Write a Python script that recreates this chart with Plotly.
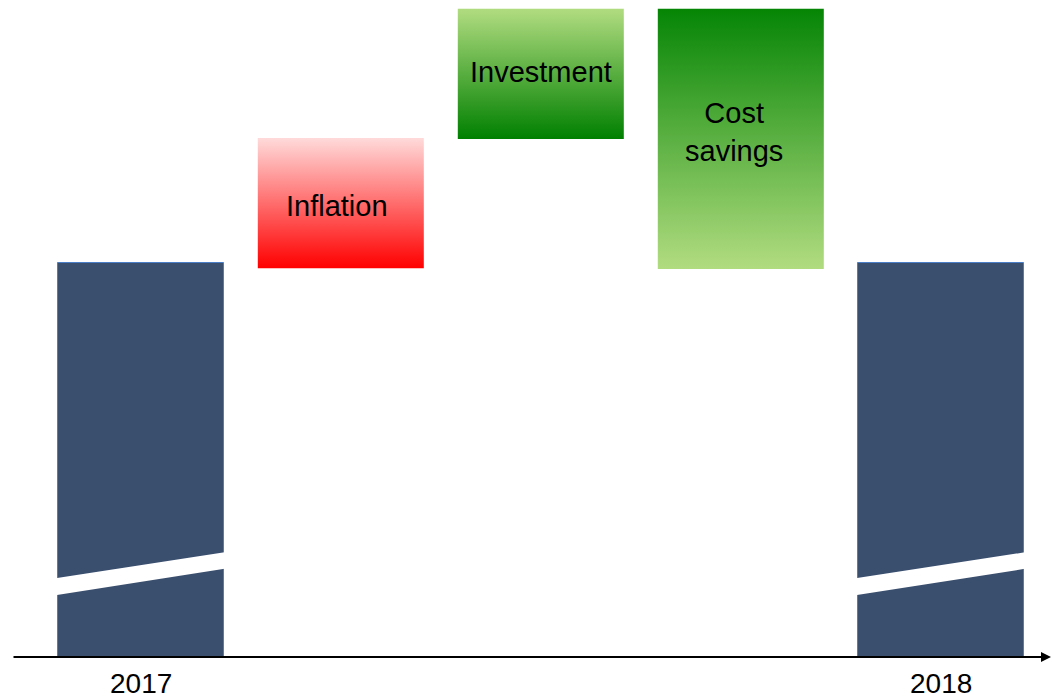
import plotly.graph_objects as go

# Bridge from 2017 to 2018 (indexed units)
categories = ["2017", "Inflation", "Investment", "Cost<br>savings", "2018"]
kinds = ["total", "delta", "delta", "delta", "total"]
axis_labels = ["2017", "", "", "", "2018"]

# totals (bars drawn from zero)
totals = {"2017": 100, "2018": 100}
# floating steps: level where each step starts and where it ends
step_start = {"Inflation": 98.7, "Investment": 131.5, "Cost<br>savings": 164.5}
step_end = {"Inflation": 131.7, "Investment": 164.5, "Cost<br>savings": 98.5}

NAVY = "#3A4F6E"
EDGE = "#4A7FC8"
BAR_W = 0.83
FONT = "Liberation Sans, Arial"

# gradient colour stops for each floating step (bottom colour, top colour)
gradients = {
    "Inflation": ("#FF0000", "#FFDADA"),
    "Investment": ("#008000", "#B1DC80"),
    "Cost<br>savings": ("#B1DC80", "#058505"),
}
# label nudges inside the step boxes (pixels)
label_shift = {
    "Inflation": (-4, -3),
    "Investment": (0, 2),
    "Cost<br>savings": (-7, 7),
}

fig = go.Figure()

xs = list(range(len(categories)))

# totals as bars
tot_x = [x for x, c in zip(xs, categories) if c in totals]
fig.add_trace(go.Bar(
    x=tot_x,
    y=[totals[categories[x]] for x in tot_x],
    width=BAR_W,
    marker=dict(color=NAVY, line=dict(color=EDGE, width=1)),
    hoverinfo="skip",
    showlegend=False,
))

# floating steps as gradient-filled rectangles
for x, cat, kind in zip(xs, categories, kinds):
    if kind != "delta":
        continue
    lo, hi = sorted((step_start[cat], step_end[cat]))
    c_lo, c_hi = gradients[cat]
    x0, x1 = x - BAR_W / 2, x + BAR_W / 2
    fig.add_trace(go.Scatter(
        x=[x0, x1, x1, x0, x0],
        y=[lo, lo, hi, hi, lo],
        mode="lines",
        line=dict(width=0),
        fill="toself",
        fillgradient=dict(type="vertical", colorscale=[[0, c_lo], [1, c_hi]]),
        hoverinfo="skip",
        showlegend=False,
    ))
    dx, dy = label_shift[cat]
    fig.add_annotation(
        x=x, y=(lo + hi) / 2, text=cat, showarrow=False,
        font=dict(family=FONT, size=29, color="#000000"),
        xshift=dx, yshift=dy,
    )

# axis-break stripes across the total bars
for x, kind in zip(xs, kinds):
    if kind != "total":
        continue
    x0, x1 = x - BAR_W / 2 - 0.02, x + BAR_W / 2 + 0.02
    fig.add_shape(
        type="path",
        path=f"M {x0},15.6 L {x1},22.5 L {x1},26.7 L {x0},19.9 Z",
        fillcolor="white", line=dict(width=0), layer="above",
    )

# year labels under the axis
for x, lab in zip(xs, axis_labels):
    if lab:
        fig.add_annotation(
            x=x, y=0, text=lab, showarrow=False, yanchor="top", yshift=-9,
            font=dict(family=FONT, size=28, color="#000000"),
        )

# horizontal axis with arrow
fig.add_annotation(
    xref="paper", yref="y", x=1051 / 1052, y=0,
    axref="pixel", ayref="pixel", ax=-1039, ay=0,
    text="", showarrow=True, arrowhead=2, arrowsize=1, arrowwidth=2,
    arrowcolor="#000000",
)

fig.update_layout(
    width=1052, height=698,
    margin=dict(l=0, r=0, t=0, b=0),
    paper_bgcolor="white", plot_bgcolor="white",
    xaxis=dict(range=[-0.704, 4.556], visible=False, fixedrange=True),
    yaxis=dict(range=[-10.4, 166.75], visible=False, fixedrange=True),
    bargap=0,
)

fig.write_html("out.html")
